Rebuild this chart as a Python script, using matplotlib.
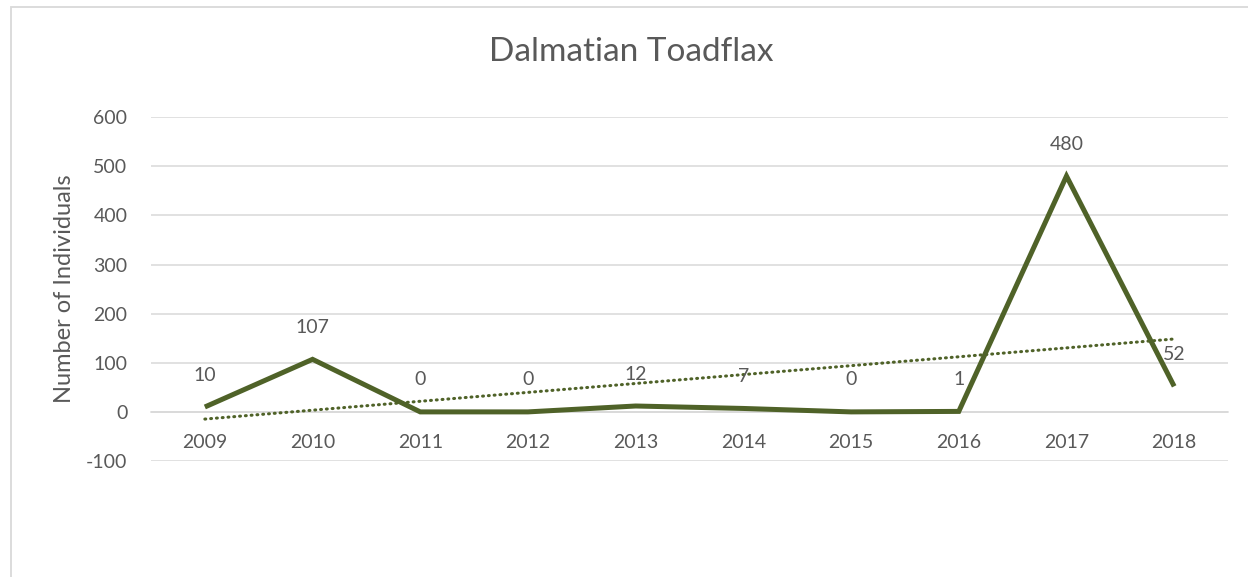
import numpy as np
import matplotlib
matplotlib.use("Agg")
import matplotlib.pyplot as plt
from matplotlib.patches import Rectangle

years = ["2009", "2010", "2011", "2012", "2013", "2014", "2015", "2016", "2017", "2018"]
counts = [10, 107, 0, 0, 12, 7, 0, 1, 480, 52]
y_ticks = [-100, 0, 100, 200, 300, 400, 500, 600]

line_color = "#4F6228"
grid_color = "#D9D9D9"
text_color = "#595959"

plt.rcParams["font.family"] = ["Lato", "DejaVu Sans"]

fig = plt.figure(figsize=(12.48, 5.77), dpi=100)
ax = fig.add_axes([0.121, 0.201, 0.863, 0.596])

x = np.arange(len(years))
ax.plot(x, counts, color=line_color, lw=3.6, solid_joinstyle="miter", solid_capstyle="butt", zorder=3)

# linear trendline over the category index
slope, intercept = np.polyfit(x, counts, 1)
ax.plot(x, slope * x + intercept, color=line_color, lw=2.2,
        linestyle=(0, (0.3, 1.6)), dash_capstyle="round", zorder=4)

for xi, v in zip(x, counts):
    ax.annotate(str(v), (xi, v), xytext=(0, 23), textcoords="offset points",
                ha="center", va="center", fontsize=14, color=text_color, zorder=5)

ax.set_xlim(-0.5, len(years) - 0.5)
ax.set_ylim(-100, 600)
ax.set_yticks(y_ticks)
ax.set_yticklabels([str(t) for t in y_ticks])
ax.set_xticks(x)
ax.set_xticklabels(years)

ax.grid(axis="y", color=grid_color, lw=1.1)
ax.set_axisbelow(True)
for s in ["top", "right", "left"]:
    ax.spines[s].set_visible(False)
ax.spines["bottom"].set_position(("data", 0))
ax.spines["bottom"].set_color(grid_color)
ax.spines["bottom"].set_linewidth(1.1)
ax.tick_params(axis="x", length=0, pad=16, labelsize=14, labelcolor=text_color)
ax.tick_params(axis="y", length=0, pad=17, labelsize=14, labelcolor=text_color)

ax.set_ylabel("Number of Individuals", fontsize=17, color=text_color, labelpad=8)
fig.text(0.506, 0.910, "Dalmatian Toadflax", ha="center", va="center",
         fontsize=24, color=text_color)

fig.patches.append(Rectangle((0.0088, -0.5), 2.0, 1.488, transform=fig.transFigure,
                             fill=False, edgecolor=grid_color, lw=1.3))

fig.savefig("out.png", dpi=100, facecolor="white")
